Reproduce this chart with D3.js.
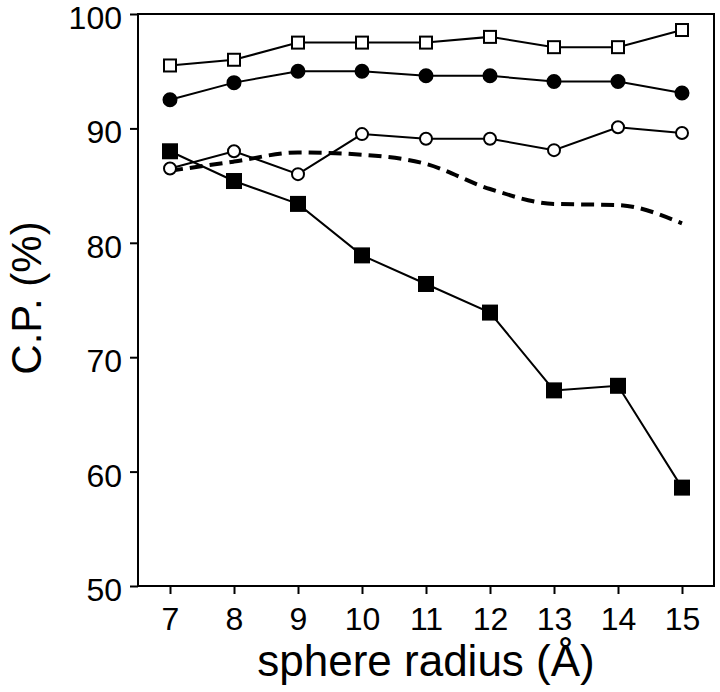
<!DOCTYPE html>
<html>
<head>
<meta charset="utf-8">
<script src="https://cdn.jsdelivr.net/npm/d3@7/dist/d3.min.js"></script>
<style>
  html, body { margin: 0; padding: 0; background: #fff; }
  svg { display: block; }
  text { font-family: "Liberation Sans", Arial, Helvetica, sans-serif; fill: #000; }
</style>
</head>
<body>
<svg id="chart" width="720" height="692"></svg>
<script>
// ---- data ----
const radii = [7, 8, 9, 10, 11, 12, 13, 14, 15];
const openSquares   = [95.5, 96.0, 97.5, 97.5, 97.5, 98.0, 97.1, 97.1, 98.6];
const filledCircles = [92.5, 94.0, 95.0, 95.0, 94.6, 94.6, 94.1, 94.1, 93.1];
const openCircles   = [86.5, 88.0, 86.0, 89.5, 89.1, 89.1, 88.1, 90.1, 89.6];
const filledSquares = [88.0, 85.4, 83.4, 78.9, 76.4, 73.9, 67.1, 67.5, 58.6];
const dashedCurve   = [86.3, 87.1, 87.9, 87.7, 86.9, 84.7, 83.4, 83.3, 81.7];
const yTicks = [50, 60, 70, 80, 90, 100];
const xTicks = radii;
const xLabel = "sphere radius (Å)";
const yLabel = "C.P. (%)";

// ---- layout ----
const svg = d3.select("#chart");
const mLeft = 138, mRight = 714, mTop = 14, mBottom = 586;

const x = d3.scaleLinear().domain([6.5, 15.5]).range([mLeft, mRight]);
const y = d3.scaleLinear().domain([50, 100]).range([mBottom, mTop]);

// frame
svg.append("rect")
  .attr("x", mLeft).attr("y", mTop)
  .attr("width", mRight - mLeft).attr("height", mBottom - mTop)
  .attr("fill", "none").attr("stroke", "#000").attr("stroke-width", 2);

// axes
const xAxis = d3.axisBottom(x).tickValues(xTicks).tickSize(8).tickSizeOuter(0).tickPadding(13);
const gx = svg.append("g").attr("transform", `translate(0,${mBottom})`).call(xAxis);
gx.select(".domain").remove();
gx.selectAll(".tick line").attr("stroke", "#000").attr("stroke-width", 2);
gx.selectAll(".tick text").attr("font-size", 32).attr("font-family", "Liberation Sans, Arial, sans-serif");

const yAxis = d3.axisLeft(y).tickValues(yTicks).tickSize(8).tickSizeOuter(0).tickPadding(8);
const gy = svg.append("g").attr("transform", `translate(${mLeft},0)`).call(yAxis);
gy.select(".domain").remove();
gy.selectAll(".tick line").attr("stroke", "#000").attr("stroke-width", 2);
gy.selectAll(".tick text").attr("font-size", 32).attr("dy", "0.45em").attr("font-family", "Liberation Sans, Arial, sans-serif");

// axis titles
svg.append("text")
  .attr("x", (mLeft + mRight) / 2).attr("y", 676)
  .attr("text-anchor", "middle").attr("font-size", 44)
  .text(xLabel);
svg.append("text")
  .attr("transform", `translate(41,${(mTop + mBottom) / 2 - 2}) rotate(-90)`)
  .attr("text-anchor", "middle").attr("font-size", 42)
  .text(yLabel);

// lines
const line = d3.line().x((d, i) => x(radii[i])).y(d => y(d));
const smooth = d3.line().x((d, i) => x(radii[i])).y(d => y(d)).curve(d3.curveMonotoneX);

svg.append("path").attr("d", smooth(dashedCurve))
  .attr("fill", "none").attr("stroke", "#000").attr("stroke-width", 4)
  .attr("stroke-dasharray", "13,7");

const series = [
  { vals: filledSquares, shape: "square", fill: "#000", size: 14 },
  { vals: openCircles, shape: "circle", fill: "#fff", size: 12 },
  { vals: filledCircles, shape: "circle", fill: "#000", size: 13 },
  { vals: openSquares, shape: "square", fill: "#fff", size: 12 }
];

series.forEach(s => {
  svg.append("path").attr("d", line(s.vals))
    .attr("fill", "none").attr("stroke", "#000").attr("stroke-width", 2);
});
series.forEach(s => {
  const g = svg.append("g");
  if (s.shape === "square") {
    g.selectAll("rect").data(s.vals).enter().append("rect")
      .attr("x", (d, i) => x(radii[i]) - s.size / 2)
      .attr("y", d => y(d) - s.size / 2)
      .attr("width", s.size).attr("height", s.size)
      .attr("fill", s.fill).attr("stroke", "#000").attr("stroke-width", 2);
  } else {
    g.selectAll("circle").data(s.vals).enter().append("circle")
      .attr("cx", (d, i) => x(radii[i]))
      .attr("cy", d => y(d))
      .attr("r", s.size / 2)
      .attr("fill", s.fill).attr("stroke", "#000").attr("stroke-width", 2);
  }
});
</script>
</body>
</html>
